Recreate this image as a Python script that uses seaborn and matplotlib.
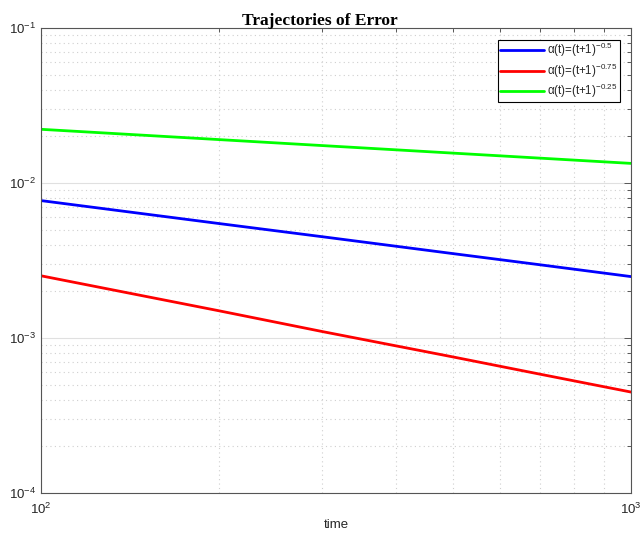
import numpy as np
import pandas as pd
import seaborn as sns
import matplotlib
matplotlib.use("Agg")
import matplotlib.pyplot as plt
from matplotlib.ticker import LogLocator, NullFormatter

# values (log-log, straight lines)
time = [100, 200, 300, 500, 700, 1000]
err_05 = [7.7e-3, 5.48e-3, 4.5e-3, 3.5e-3, 2.97e-3, 2.49e-3]
err_075 = [2.52e-3, 1.5e-3, 1.1e-3, 7.54e-4, 5.85e-4, 4.48e-4]
err_025 = [2.22e-2, 1.906e-2, 1.743e-2, 1.558e-2, 1.447e-2, 1.338e-2]

labels = [r"$\alpha$(t)=(t+1)$^{-0.5}$",
          r"$\alpha$(t)=(t+1)$^{-0.75}$",
          r"$\alpha$(t)=(t+1)$^{-0.25}$"]
colors = ["#0000ff", "#ff0000", "#00ff00"]

df = pd.concat([
    pd.DataFrame({"time": time, "error": e, "series": lab})
    for e, lab in zip([err_05, err_075, err_025], labels)
])

sns.set_style("white")
plt.rcParams["font.family"] = ["Liberation Sans", "DejaVu Sans"]
plt.rcParams["mathtext.fontset"] = "custom"
plt.rcParams["mathtext.rm"] = "Liberation Sans"
plt.rcParams["mathtext.it"] = "Liberation Sans"
plt.rcParams["axes.formatter.use_mathtext"] = True

fig = plt.figure(figsize=(6.4, 5.38), dpi=100)
ax = fig.add_axes([0.064, 0.0836, 0.922, 0.8644])

sns.lineplot(data=df, x="time", y="error", hue="series", hue_order=labels,
             palette=dict(zip(labels, colors)), linewidth=2, ax=ax)

ax.set_xscale("log")
ax.set_yscale("log")
ax.set_xlim(100, 1000)
ax.set_ylim(1e-4, 1e-1)

ax.yaxis.set_minor_locator(LogLocator(base=10, subs=np.arange(2, 10)))
ax.xaxis.set_minor_locator(LogLocator(base=10, subs=np.arange(2, 10)))
ax.xaxis.set_minor_formatter(NullFormatter())
ax.yaxis.set_minor_formatter(NullFormatter())

ax.grid(True, which="major", color="#e0e0e0", linestyle="-", linewidth=0.8)
ax.grid(True, which="minor", color="#cfcfcf", linestyle=(0, (1, 3)), linewidth=0.8)
ax.set_axisbelow(True)

ax.tick_params(which="both", direction="in", top=True, right=True,
               colors="#404040", labelcolor="#262626", labelsize=9.5, width=0.6)
ax.tick_params(which="major", length=5)
ax.tick_params(which="minor", length=3)
ax.tick_params(axis="x", pad=6)
for s in ax.spines.values():
    s.set_color("#555555")
    s.set_linewidth(0.8)

ax.set_xlabel("time", fontsize=9.5, color="#262626", labelpad=2)
ax.set_ylabel("")
# title is centred on the figure, not on the axes
ax.set_title("Trajectories of Error", fontsize=12.5, weight="bold",
             family="Liberation Serif", color="black", pad=2, x=0.473)

leg = ax.legend(loc="upper right", fontsize=8.3, frameon=True, fancybox=False,
                edgecolor="black", framealpha=1, borderaxespad=1.0,
                handlelength=3.8, handletextpad=0.3, labelspacing=0.2,
                borderpad=0.15)
leg.get_frame().set_linewidth(0.8)
for line in leg.get_lines():
    line.set_linewidth(2)

plt.savefig("out.png", dpi=100)
